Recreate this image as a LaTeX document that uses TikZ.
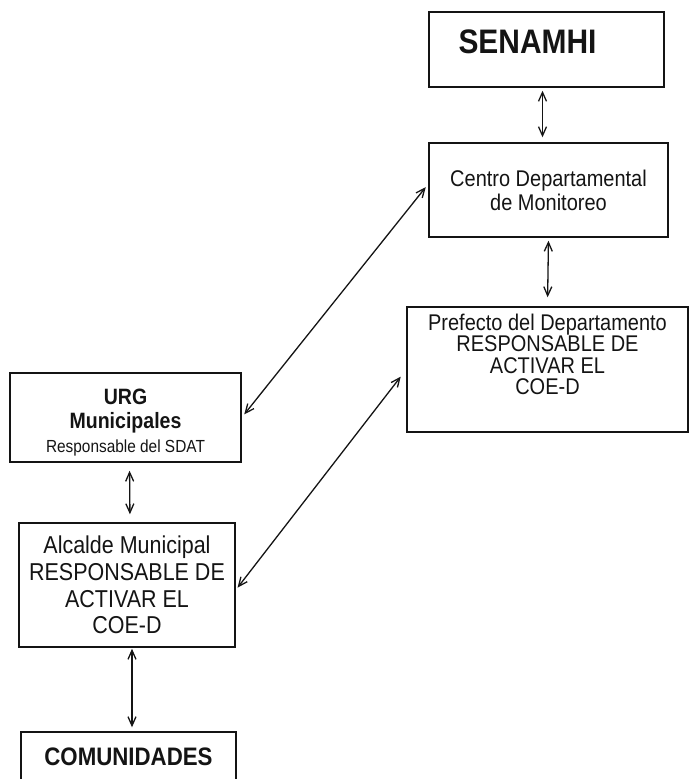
\documentclass[tikz,border=0pt]{standalone}
\usepackage{fontspec}
\setmainfont{Liberation Sans}[FakeStretch=0.88]
\usepackage{xcolor}
\usepackage{tikz}
\usetikzlibrary{arrows.meta}
\definecolor{ink}{HTML}{141414}
\tikzset{
  box/.style={draw=ink, line width=1.5pt, rectangle, inner sep=0pt},
  link/.style={draw=ink, line width=1.3pt, {Straight Barb[length=9pt,width=8pt]}-{Straight Barb[length=9pt,width=8pt]}},
  lab/.style={text=ink, align=center, font=\fontsize{22.7}{24}\selectfont},
  labb/.style={text=ink, align=center, font=\bfseries\fontsize{25.3}{28}\selectfont},
}

\begin{document}
\begin{tikzpicture}[x=1pt, y=-1pt]
  \useasboundingbox (0,0) rectangle (690,779);
  % right column
  \node[box, minimum width=235pt, minimum height=75pt,
        label={[text=ink, font=\bfseries\fontsize{34}{38}\selectfont, xshift=-19pt, yshift=7.5pt]center:SENAMHI}]
        (sen) at (546.5,49.5) {};
  \node[box, lab, minimum width=239pt, minimum height=94pt] (cen) at (548.5,190)
        {Centro Departamental\\de Monitoreo};
  \node[box, minimum width=281pt, minimum height=125pt,
        label={[lab, font=\fontsize{22.7}{21.5}\selectfont, yshift=15pt]center:{Prefecto del Departamento\\RESPONSABLE DE\\ACTIVAR EL\\COE-D}}]
        (pref) at (547.5,369.5) {};
  % left column
  \node[box, minimum width=231pt, minimum height=89pt,
        label={[lab, yshift=-5pt]center:{\bfseries\fontsize{22.2}{24.5}\selectfont URG\\\bfseries\fontsize{22.2}{24.5}\selectfont Municipales\\\fontsize{17.5}{24}\selectfont Responsable del SDAT}}]
        (urg) at (125.5,417.5) {};
  \node[box, lab, font=\fontsize{24.4}{26.7}\selectfont, minimum width=216pt, minimum height=124pt] (alc) at (127,585)
        {Alcalde Municipal\\RESPONSABLE DE\\ACTIVAR EL\\COE-D};
  \node[box, labb, minimum width=215pt, minimum height=50pt] (com) at (128.5,757) {COMUNIDADES};
  % links
  \draw[link, shorten <=3pt, shorten >=5pt] ([xshift=-4pt]sen.south) -- ([xshift=-6pt]cen.north);
  \draw[link, shorten <=3pt, shorten >=9pt] (cen.south) -- (pref.north);
  \draw[link, shorten <=8pt, shorten >=8pt] ([xshift=4pt]urg.south) -- ([xshift=3pt]alc.north);
  \draw[link, shorten <=1pt, shorten >=4pt] ([xshift=5pt]alc.south) -- ([xshift=3.5pt]com.north);
  \draw[link, shorten <=4pt, shorten >=4pt] (urg.east) -- ([yshift=6pt]cen.west);
  \draw[link, shorten <=3pt, shorten >=9pt] ([yshift=-5pt]alc.east) -- (pref.west);
\end{tikzpicture}
\end{document}
